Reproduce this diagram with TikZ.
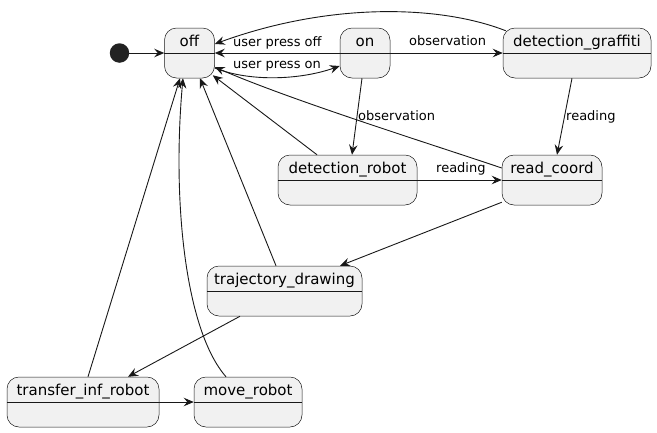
\documentclass[tikz,border=0pt]{standalone}
\usepackage{fontspec}
\setmainfont{DejaVu Sans}
\usetikzlibrary{arrows.meta}
\definecolor{stfill}{HTML}{F1F1F1}
\definecolor{stline}{HTML}{181818}
\definecolor{initc}{HTML}{222222}
\tikzset{
  statebox/.style={draw=stline, line width=0.5pt, fill=stfill, rounded corners=12pt,
    inner sep=0pt, minimum height=50pt},
  divider/.style={draw=stline, line width=0.5pt},
  stitle/.style={anchor=base, inner sep=0pt, font=\fontsize{15pt}{18pt}\selectfont},
  elabel/.style={anchor=base west, inner sep=0pt, font=\fontsize{13pt}{16pt}\selectfont},
  edge/.style={draw=stline, line width=0.9pt, -{Stealth[length=10pt,width=8.5pt,inset=3.5pt]}},
}
\newcommand{\statebox}[5]{% name, cx, cy, width, title
  \node[statebox, minimum width=#4pt] (#1) at (#2,#3) {};
  \draw[divider] (#1.west) -- (#1.east);
  \node[stitle] (#1-t) at (#2,#3-6.5) {#5};
}
\begin{document}
\begin{tikzpicture}[x=1pt,y=-1pt]
\useasboundingbox (0,0) rectangle (657,432);
\node[circle, fill=initc, inner sep=0pt, minimum size=19.5pt] (init) at (119.5,53) {};
\statebox{off}{189.5}{53}{50}{off}
\statebox{on}{365}{53}{50}{on}
\statebox{dg}{577}{53}{148}{detection\_graffiti}
\statebox{dr}{347.5}{180}{139}{detection\_robot}
\statebox{rc}{552}{180}{100}{read\_coord}
\statebox{td}{284.5}{291}{155}{trajectory\_drawing}
\statebox{ti}{83}{402}{152}{transfer\_inf\_robot}
\statebox{mr}{248}{402}{108}{move\_robot}

% edges
\draw[edge] (init) -- (off);
\draw[edge] (on.west) -- (off.east);
\draw[edge] ([yshift=-15pt]off.east) .. controls (250,82) and (300,80) .. ([yshift=-13pt]on.west);
\draw[edge] ([xshift=3pt,yshift=-3pt]dg.north west) .. controls (440,5) and (330,2) .. ([yshift=9pt]off.east);
\draw[edge] (on.east) -- (dg.west);
\draw[edge] ([xshift=-3pt]on.south) -- ([xshift=4.5pt]dr.north);
\draw[edge] ([xshift=-5pt]dg.south) -- ([xshift=5pt]rc.north);
\draw[edge] (dr.east) -- (rc.west);
\draw[edge] ([xshift=-30.5pt]dr.north) -- ([xshift=-2pt,yshift=3pt]off.south east);
\draw[edge] ([yshift=12pt]rc.west) .. controls (440,147) and (290,100) .. ([yshift=-14pt]off.east);
\draw[edge] ([xshift=-8.5pt]td.north) -- ([xshift=10.5pt]off.south);
\draw[edge] ([xshift=5pt]ti.north) -- ([xshift=-9.5pt]off.south);
\draw[edge] ([xshift=-22pt]mr.north) .. controls (185,330) and (172,200) .. ([xshift=-6.5pt]off.south);
\draw[edge] ([yshift=3pt]rc.south west) -- ([xshift=55.5pt]td.north);
\draw[edge] ([xshift=-44.5pt]td.south) -- ([xshift=45pt]ti.north);
\draw[edge] (ti.east) -- (mr.west);

% labels
\node[elabel] (l1) at (233,46) {user press off};
\node[elabel] (l2) at (233,68.3) {user press on};
\node[elabel] (l3) at (409,45.7) {observation};
\node[elabel] (l4) at (358,120.7) {observation};
\node[elabel] (l5) at (566,120.7) {reading};
\node[elabel] (l6) at (436,172.7) {reading};
\end{tikzpicture}
\end{document}
